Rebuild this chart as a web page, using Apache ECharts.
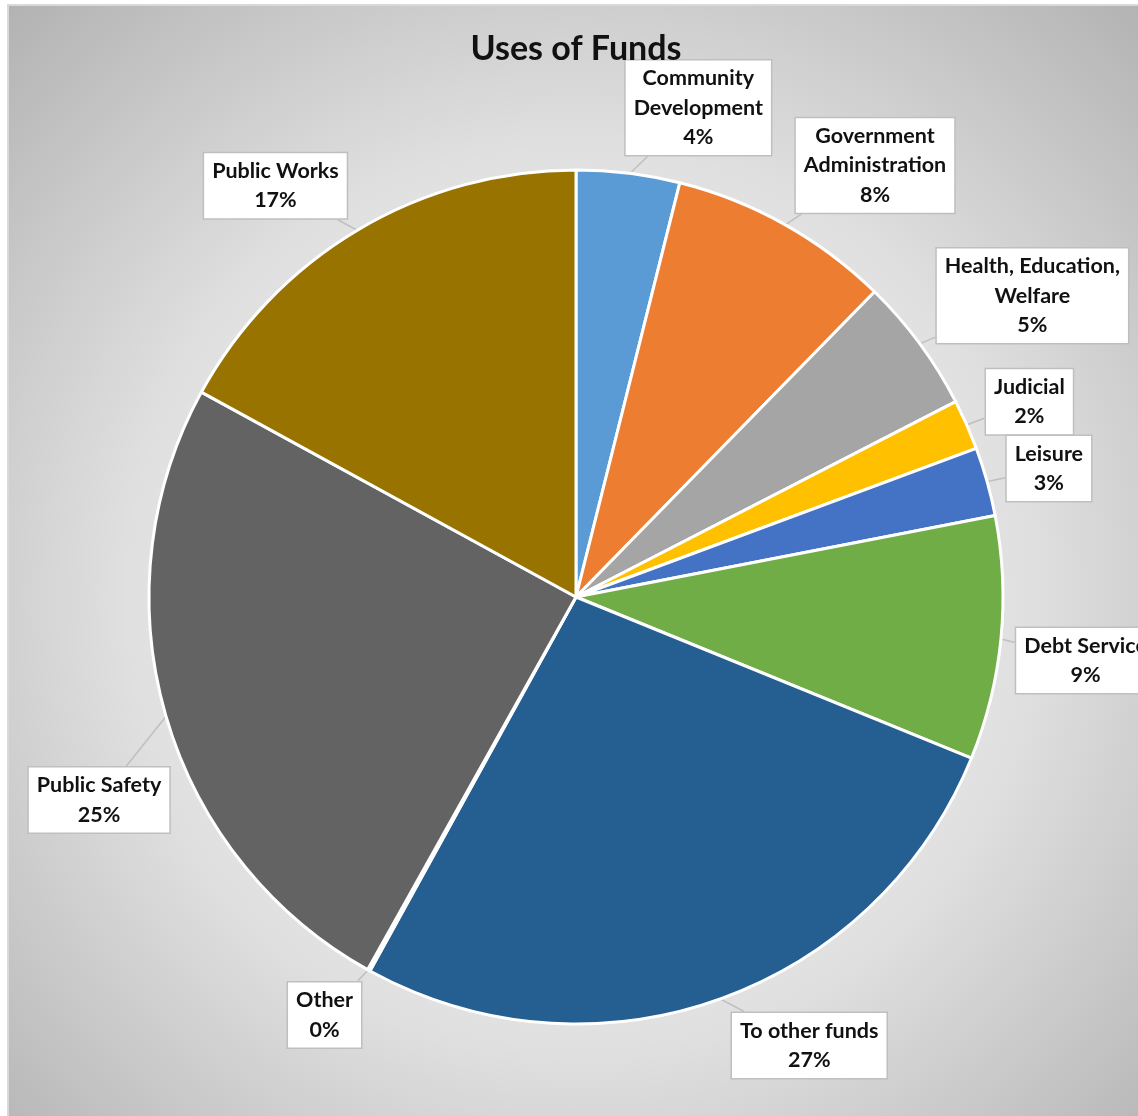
<!DOCTYPE html>
<html>
<head>
<meta charset="utf-8">
<title>Uses of Funds</title>
<script src="https://cdn.jsdelivr.net/npm/echarts@6/dist/echarts.min.js"></script>
<style>
  html, body { margin: 0; padding: 0; background: #fff; }
  #pie { width: 1138px; height: 1116px; }
</style>
</head>
<body>
<div id="pie"></div>
<script>
// slices, clockwise from 12 o'clock
const categories = ['Community\nDevelopment', 'Government\nAdministration', 'Health, Education,\nWelfare',
  'Judicial', 'Leisure', 'Debt Service', 'To other funds', 'Other', 'Public Safety', 'Public Works'];
const shares = [3.9, 8.4, 5.1, 1.9, 2.6, 9.2, 26.8, 0.1, 24.8, 17.0];
const sliceColors = ['#5b9bd5', '#ed7d31', '#a5a5a5', '#ffc000', '#4472c4', '#70ad47',
  '#255e91', '#9e480e', '#636363', '#997300'];
// how far (deg) each callout box is pushed off its slice's middle
const labelNudge = [7, 5.5, 3, 0.5, 0.5, 1.5, -8, 2, -7, -5.5];

const cx = 576, cy = 597, R = 427;
const total = shares.reduce((a, b) => a + b, 0);

const chart = echarts.init(document.getElementById('pie'));

const option = {
    backgroundColor: '#fff',
    graphic: [{
        type: 'rect',
        z: -10,
        silent: true,
        shape: { x: 8, y: 5, width: 1140, height: 1120 },
        style: {
            fill: {
                type: 'radial', x: 0.5, y: 0.53, r: 0.8,
                colorStops: [
                    { offset: 0, color: '#f6f6f6' },
                    { offset: 0.5, color: '#e0e0e0' },
                    { offset: 1, color: '#a9a9a9' }
                ]
            },
            stroke: '#d9d9d9',
            lineWidth: 2
        }
    }, {
        // chart title
        type: 'text',
        x: 576,
        y: 49,
        z: 10,
        style: {
            text: 'Uses of Funds',
            align: 'center',
            verticalAlign: 'middle',
            font: 'bold 34px Lato',
            fill: '#111'
        }
    }],
    series: [{
        type: 'pie',
        center: [cx, cy],
        radius: R,
        startAngle: 90,
        clockwise: true,
        avoidLabelOverlap: false,
        itemStyle: { borderColor: '#fff', borderWidth: 3 },
        label: {
            show: true,
            position: 'outside',
            fontFamily: 'Lato',
            fontSize: 21.5,
            fontWeight: 'bold',
            color: '#111',
            lineHeight: 29.5,
            align: 'center',
            backgroundColor: '#fff',
            borderColor: '#bfbfbf',
            borderWidth: 1.5,
            padding: [3, 8],
            formatter: p => p.name + '\n' + Math.round(p.percent) + '%'
        },
        labelLine: { show: true, lineStyle: { color: '#bfbfbf', width: 1.5 } },
        labelLayout: function (p) {
            const i = p.dataIndex;
            let before = 0;
            for (let k = 0; k < i; k++) before += shares[k];
            const mid = (before + shares[i] / 2) / total * 360;
            const a = (mid + labelNudge[i]) * Math.PI / 180;
            const s = Math.sin(a), c = Math.cos(a);
            const w = p.labelRect.width, h = p.labelRect.height;
            const d = R + 12 + Math.abs(s) * w / 2 + Math.abs(c) * h / 2;
            const lx = cx + d * s, ly = cy - d * c;
            // callout tip on the rim, in the middle of the slice
            const m = mid * Math.PI / 180;
            const ax = cx + (R - 2) * Math.sin(m), ay = cy - (R - 2) * Math.cos(m);
            const vx = ax - lx, vy = ay - ly;
            const t = Math.min(w / 2 / Math.max(Math.abs(vx), 1e-6), h / 2 / Math.max(Math.abs(vy), 1e-6));
            return {
                x: lx, y: ly, align: 'center', verticalAlign: 'middle',
                labelLinePoints: [[ax, ay], [lx + vx * t, ly + vy * t]]
            };
        },
        data: categories.map((name, i) => ({
            name: name,
            value: shares[i],
            itemStyle: { color: sliceColors[i] }
        }))
    }]
};

chart.setOption(option);
</script>
</body>
</html>
